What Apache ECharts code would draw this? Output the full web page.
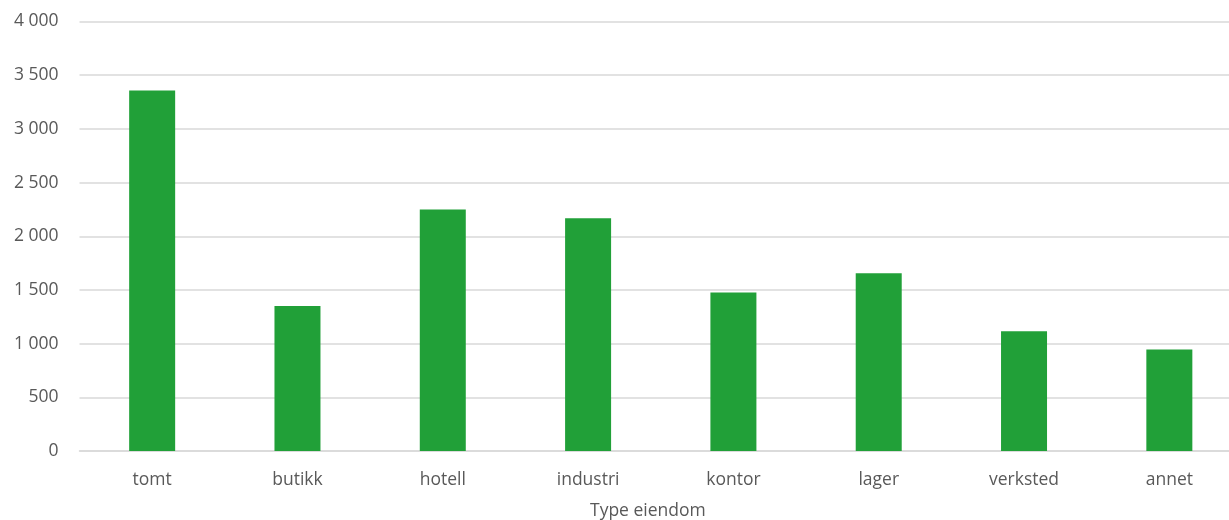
<!DOCTYPE html>
<html><head><meta charset="utf-8">
<script src="https://cdn.jsdelivr.net/npm/echarts@6/dist/echarts.min.js"></script>
<style>html,body{margin:0;padding:0;background:#fff;overflow:hidden}#c{width:1242px;height:520px}</style>
</head><body><div id="c"></div>
<script>
const categories = ["tomt","butikk","hotell","industri","kontor","lager","verksted","annet"];
const values = [3357, 1350, 2249, 2168, 1476, 1655, 1115, 945];
const yTicks = [0, 500, 1000, 1500, 2000, 2500, 3000, 3500, 4000];
const axisTitle = "Type eiendom";

const chart = echarts.init(document.getElementById('c'), null, {renderer:'canvas'});
const font = "'Open Sans', 'Liberation Sans', sans-serif";
chart.setOption({
  animation:false,
  grid:{left:79.5, right:0, top:21.5, bottom:69},
  xAxis:{type:'category', data:categories,
    axisLine:{show:true, lineStyle:{color:'#d9d9d9', width:1.5}},
    axisTick:{show:false},
    axisLabel:{color:'#595959', fontSize:17.5, fontFamily:font, margin:20}},
  yAxis:{type:'value', min:0, max:4000, interval:500,
    axisLine:{show:false}, axisTick:{show:false},
    splitLine:{lineStyle:{color:'#d9d9d9', width:1.5}},
    axisLabel:{color:'#595959', fontSize:17.5, fontFamily:font, margin:21,
      formatter:v=>yTicks.includes(v)? String(v).replace(/\B(?=(\d{3})+(?!\d))/g,' '):''}},
  series:[{type:'bar', data:values, barWidth:46, itemStyle:{color:'#21a038'}}],
  graphic:[{type:'text', left:590, top:502, style:{text:axisTitle, fill:'#595959', font:'17.5px '+font}}]
});
</script></body></html>
